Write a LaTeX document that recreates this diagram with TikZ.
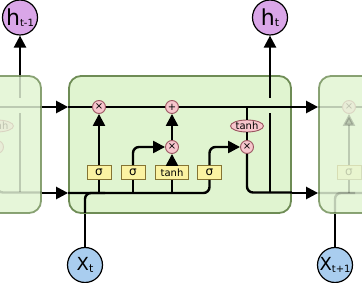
\documentclass[tikz,border=0pt]{standalone}
\usepackage{fontspec}
\setmainfont{DejaVu Sans}
\usetikzlibrary{arrows.meta,shapes.geometric}

\definecolor{cellfill}{HTML}{E0F4D0}
\definecolor{celledge}{HTML}{6E8C55}
\definecolor{gatefill}{HTML}{FBF3A2}
\definecolor{gateedge}{HTML}{857433}
\definecolor{opfill}{HTML}{F7C6CD}
\definecolor{opedge}{HTML}{9A5560}
\definecolor{hfill}{HTML}{DAA6E8}
\definecolor{xfill}{HTML}{A9CDEF}

\begin{document}
\begin{tikzpicture}[
  x=1pt, y=-1pt,
  cellbox/.style={draw=celledge, fill=cellfill, line width=1.8pt,
                  rounded corners=12pt, minimum width=222pt, minimum height=137pt},
  gate/.style={draw=gateedge, fill=gatefill, line width=0.9pt, inner sep=0pt,
               minimum width=24pt, minimum height=14pt, font=\fontsize{12}{12}\selectfont},
  op/.style={circle, draw=opedge, fill=opfill, line width=0.9pt, inner sep=0pt,
             minimum size=13pt, font=\fontsize{10}{10}\selectfont},
  squash/.style={ellipse, draw=opedge, fill=opfill, line width=0.9pt, inner sep=0pt,
                 minimum width=33pt, minimum height=12pt, font=\fontsize{10}{10}\selectfont},
  hnode/.style={circle, draw, fill=hfill, line width=1.2pt, inner sep=0pt, minimum size=35pt},
  xnode/.style={circle, draw, fill=xfill, line width=1.2pt, inner sep=0pt, minimum size=35pt},
  wire/.style={draw, line width=2.4pt, rounded corners=6pt},
  flow/.style={wire, -{Triangle[length=12pt,width=12pt]}}
]
\clip (0,0) rectangle (362,283);
% three cells: previous and next ones faded
\foreach \dx/\cn/\bo/\co in {-250/p/.8/.18, 0/m/1/1, 250/n/.8/.18}{
  \begin{scope}[xshift=\dx pt, opacity=\co]
    \node[cellbox, opacity=\bo] (\cn-box) at (180,144.5) {};
    \node[op] (\cn-f) at (99,107) {×};
    \node[op] (\cn-a) at (172,107) {+};
    \node[op] (\cn-i) at (172,147) {×};
    \node[op] (\cn-o) at (247,147) {×};
    \node[squash] (\cn-tc) at (247,126) {tanh};
    \node[gate] (\cn-sf) at (99,172.5) {σ};
    \node[gate] (\cn-si) at (133,172.5) {σ};
    \node[gate, minimum width=33pt, font=\fontsize{10}{10}\selectfont] (\cn-tg) at (172,172.5) {tanh};
    \node[gate] (\cn-so) at (209.5,172.5) {σ};
    % cell state
    \draw[wire] (\cn-box.west |- \cn-f) -- (\cn-f.west);
    \draw[wire] (\cn-f.east) -- (\cn-a.west);
    \draw[wire] (\cn-a.east) -- (\cn-box.east |- \cn-a);
    \draw[wire] (\cn-tc |- \cn-f) -- (\cn-tc.north);
    \draw[wire] (\cn-tc.south) -- (\cn-o.north);
    % gates
    \draw[wire] (\cn-box.west |- 0,193) -| (\cn-so.south);
    \draw[wire] (85,213) |- (105,193);
    \foreach \g in {sf,si,tg}
      \draw[wire] (\cn-\g.south) -- (\cn-\g |- 0,193);
    \draw[flow] (\cn-sf.north) -- (\cn-f.south);
    \draw[flow] (\cn-si.north) |- (\cn-i.west);
    \draw[flow] (\cn-tg.north) -- (\cn-i.south);
    \draw[flow] (\cn-i.north) -- (\cn-a.south);
    \draw[flow] (\cn-so.north) |- (\cn-o.west);
    % output
    \draw[wire] (\cn-o.south) |- (\cn-box.east |- 0,192.5);
    \draw[wire] (270,192.5) -- (270,113);
    \draw[wire] (270,98) -- (\cn-box.north -| 270,0);
  \end{scope}
}
\node[hnode] (hprev) at (20,17.5) {\fontsize{22}{22}\selectfont h\raisebox{-1.5pt}{\fontsize{10}{10}\selectfont t-1}};
\node[hnode] (hcur) at (270,17.5) {\fontsize{22}{22}\selectfont h\raisebox{-1.5pt}{\fontsize{11}{11}\selectfont t}};
\node[xnode] (xcur) at (85,265) {\fontsize{18}{18}\selectfont X\raisebox{-1.5pt}{\fontsize{11}{11}\selectfont t}};
\node[xnode] (xnext) at (335,265) {\fontsize{18}{18}\selectfont X\raisebox{-1.5pt}{\fontsize{10}{10}\selectfont t+1}};
\draw[flow] (p-box.north -| hprev) -- (hprev);
\draw[flow] (m-box.north -| hcur) -- (hcur);
\draw[wire] (xcur) -- (m-box.south -| xcur);
\draw[wire] (xnext) -- (n-box.south -| xnext);
\draw[flow] (p-box.east |- m-f) -- (m-box.west |- m-f);
\draw[flow] (p-box.east |- 0,193) -- (m-box.west |- 0,193);
\draw[flow] (m-box.east |- m-f) -- (n-box.west |- m-f);
\draw[flow] (m-box.east |- 0,193) -- (n-box.west |- 0,193);
\end{tikzpicture}
\end{document}
